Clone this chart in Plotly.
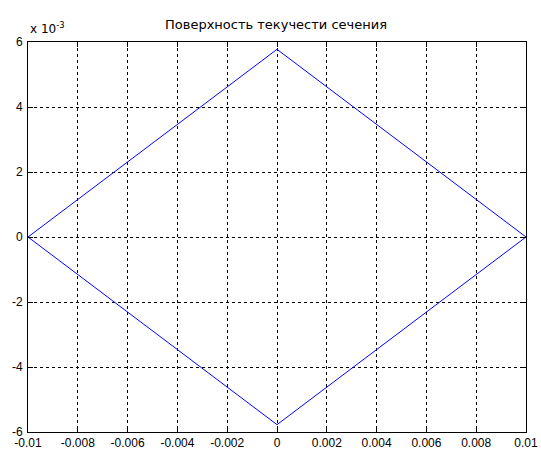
import plotly.graph_objects as go

# Yield surface vertices (closed polygon)
x_vals = [-0.01, 0.0, 0.01, 0.0, -0.01]
y_vals = [0.0, 0.005774, 0.0, -0.005774, 0.0]

x_ticks = [-0.01, -0.008, -0.006, -0.004, -0.002, 0.0, 0.002, 0.004, 0.006, 0.008, 0.01]
x_tick_text = ["-0.01", "-0.008", "-0.006", "-0.004", "-0.002", "0", "0.002", "0.004", "0.006", "0.008", "0.01"]
y_ticks = [-0.006, -0.004, -0.002, 0.0, 0.002, 0.004, 0.006]
y_tick_text = ["-6", "-4", "-2", "0", "2", "4", "6"]

title_text = "Поверхность текучести сечения"

tick_font = "Liberation Sans Narrow, Liberation Sans, Arial, sans-serif"
title_font = "DejaVu Sans, Liberation Sans, sans-serif"

fig = go.Figure()
fig.add_trace(go.Scatter(
    x=x_vals, y=y_vals, mode="lines",
    line=dict(color="#0000ff", width=1),
    showlegend=False, hoverinfo="skip",
))

axis_common = dict(
    showgrid=True, gridcolor="#000000", griddash="3px,3px", gridwidth=1,
    showline=True, linecolor="#000000", linewidth=1, mirror="ticks",
    ticks="inside", ticklen=5, tickcolor="#000000",
    zeroline=False, automargin=False,
    tickfont=dict(family=tick_font, size=12, color="#000000"),
)

fig.update_xaxes(range=[-0.01, 0.01], tickvals=x_ticks, ticktext=x_tick_text,
                 ticklabelstandoff=0, **axis_common)
fig.update_yaxes(range=[-0.006, 0.006], tickvals=y_ticks, ticktext=y_tick_text,
                 ticklabelstandoff=2, **axis_common)

fig.update_layout(
    width=541, height=450,
    margin=dict(l=28, r=15, t=42, b=18),
    paper_bgcolor="#ffffff", plot_bgcolor="#ffffff",
    title=dict(text=title_text, x=276 / 541, xanchor="center", y=1 - 24 / 450, yanchor="middle",
               font=dict(family=title_font, size=13, color="#000000")),
    annotations=[dict(
        text="x 10<sup>-3</sup>", xref="paper", yref="paper", x=0, y=1,
        xanchor="left", yanchor="bottom", xshift=0, yshift=4, showarrow=False,
        font=dict(family=title_font, size=12, color="#000000"),
    )],
)

fig.write_html("out.html")
